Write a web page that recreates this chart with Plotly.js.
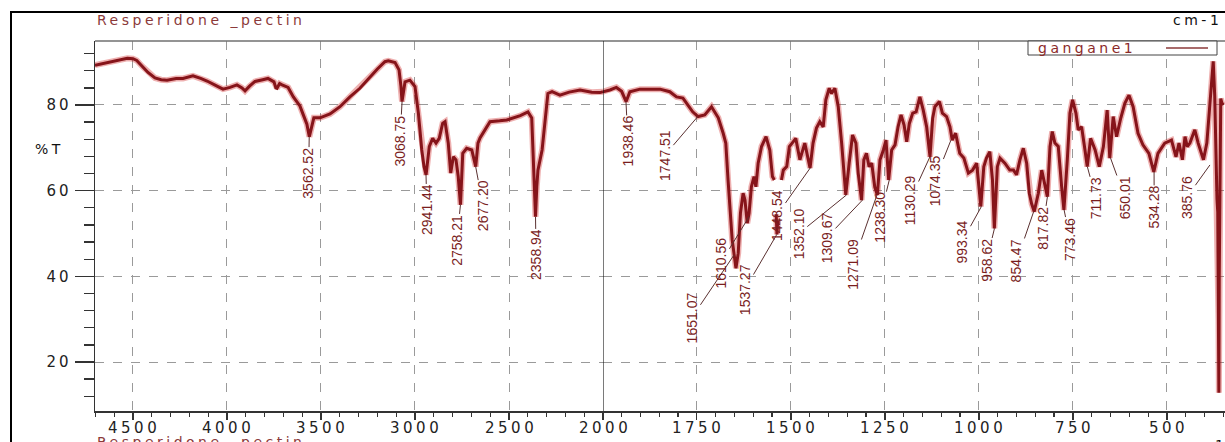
<!DOCTYPE html>
<html><head><meta charset="utf-8">
<script src="https://cdn.plot.ly/plotly-3.0.1.min.js"></script>
<style>
html,body{margin:0;padding:0;background:#fff;}
#chart{width:1225px;height:442px;}
.ytick text {letter-spacing:3px;}
.annotation-text[style*="DejaVu"] {letter-spacing:3.5px;}
</style></head><body><div id="chart"></div>
<script>
// ---------------- data ----------------
const sampleTitle = 'Resperidone _pectin';
const seriesName = 'gangane1';
const unitLabel = 'cm-1';
const yLabel = '%T';

const wavenumber = [
 4702,4640,4580,4530,4500,4480,4450,4420,4383,4350,4319,4270,4234,4181,4140,4106,4053,4021,3984,3947,
 3920,3904,3880,3851,3810,3782,3750,3740,3734,3720,3707,3675,3647,3612,3594,3575,3562,3550,3538,3505,
 3452,3399,3346,3293,3239,3200,3160,3142,3106,3085,3075,3069,3053,3027,3000,2982,2964,2952,2941,2924,
 2906,2888,2871,2853,2840,2823,2810,2796,2782,2770,2758,2746,2725,2698,2677,2665,2654,2601,2550,2512,
 2440,2399,2379,2368,2359,2352,2346,2324,2293,2271,2229,2180,2122,2060,2016,2000,
 1981,1964,1950,1938,1928,1901,1848,1822,1804,1787,1761,1747,1729,1711,1693,1680,1673,1667,1660,1656,
 1646,1640,1634,1627,1622,1616,1611,1605,1598,1593,1587,1578,1566,1556,1549,1544,1541,1539,1537,1535,
 1530,1525,1520,1511,1504,1494,1487,1476,1463,1449,1441,1432,1423,1414,1407,1398,1392,1383,1374,1365,
 1354,1345,1336,1327,1321,1312,1306,1299,1292,1285,1277,1270,1263,1254,1247,1240,1232,1223,1215,1207,
 1199,1192,1185,1176,1167,1157,1148,1139,1130,1123,1117,1105,1097,1086,1077,1071,1062,1051,1040,1028,
 1017,1006,995,987,980,971,964,959,951,944,931,918,908,900,891,882,873,866,860,853,
 842,833,825,818,811,805,798,789,780,774,765,758,751,742,736,727,718,712,703,691,
 680,669,659,652,643,634,623,612,601,590,577,564,548,535,524,506,488,476,468,459,
 452,446,439,426,417,403,394,387,380,377,373,370,367,365,363,362,361,359,357,354,350
];
const transmittance = [
 89.3,89.9,90.5,90.9,90.8,90.4,89.0,87.6,86.3,85.9,85.8,86.2,86.2,86.8,86.2,85.6,84.4,83.7,84.1,84.7,
 84.0,83.3,84.4,85.5,85.9,86.2,85.4,84.0,83.9,85.0,84.7,84.1,81.9,79.8,77.7,75.5,72.6,75.2,77.0,77.0,
 77.9,79.6,81.9,83.9,86.6,88.4,90.1,90.3,89.9,88.2,84.5,80.8,85.4,85.8,84.3,78.1,69.5,65.6,63.7,70.3,
 72.2,71.1,72.2,75.7,76.1,71.1,64.1,67.9,67.2,63.3,56.7,68.7,69.9,69.5,65.6,71.1,72.3,76.1,76.3,76.5,
 77.5,78.4,77.0,64.0,53.9,61.0,64.8,69.5,82.7,83.1,82.3,83.0,83.5,83.0,82.9,83.1,
 83.5,84.1,83.2,80.8,83.1,83.7,83.7,83.1,81.9,81.6,78.4,77.3,77.7,79.6,77.0,73.4,71.1,62.5,53.1,48.5,
 41.9,45.4,54.8,59.4,57.8,52.4,54.8,60.9,63.3,60.9,66.4,70.3,72.6,69.5,63.3,62.5,null,54.5,49.8,53.0,
 null,62.5,64.8,65.6,70.3,71.4,72.2,67.2,71.1,65.3,71.1,74.6,76.1,74.9,81.2,83.9,82.7,83.9,79.6,71.1,
 59.0,66.4,73.0,71.1,64.1,57.8,67.2,68.7,65.6,66.4,60.9,59.0,67.2,69.5,71.8,62.5,69.5,70.7,74.9,77.7,
 75.3,71.4,75.7,78.1,78.4,81.9,78.8,74.9,67.9,76.9,79.6,80.8,78.1,77.3,74.9,71.8,73.4,68.7,67.6,64.1,
 64.8,66.4,56.3,65.6,67.6,69.1,62.5,51.2,65.6,67.6,66.4,64.8,64.8,63.7,67.2,69.9,66.4,59.4,57.0,55.1,
 59.4,64.8,61.7,58.6,70.3,73.8,71.1,70.3,60.9,55.5,67.2,78.1,81.2,78.1,74.2,74.9,69.5,65.6,72.2,69.5,
 65.6,70.3,78.8,67.6,77.3,72.6,76.9,80.4,82.3,79.6,73.4,70.7,68.7,64.4,68.7,71.1,71.8,67.9,71.1,67.2,
 72.6,70.3,71.1,74.2,71.1,67.2,71.1,79.6,88.0,90.2,82.0,68.0,58.0,55.0,30.0,12.8,40.0,78.0,81.5,80.5,80.0
];

const peakLabels = ['3562.52','3068.75','2941.44','2758.21','2677.20','2358.94','1938.46','1747.51','1651.07','1610.56',
 '1537.27','1448.54','1352.10','1309.67','1271.09','1238.30','1130.29','1074.35','993.34','958.62',
 '854.47','817.82','773.46','711.73','650.01','534.28','385.76'];
const peakWavenumber = [3562.52,3068.75,2941.44,2758.21,2677.20,2358.94,1938.46,1747.51,1651.07,1610.56,
 1537.27,1448.54,1352.10,1309.67,1271.09,1238.30,1130.29,1074.35,993.34,958.62,
 854.47,817.82,773.46,711.73,650.01,534.28,385.76];
const peakTransmittance = [72.6,80.8,63.7,56.7,65.6,53.9,80.8,77.3,45.0,54.0,
 49.8,65.3,59.0,57.8,59.0,62.5,67.9,71.8,56.3,51.2,
 55.1,58.6,55.5,65.6,67.6,64.4,66.0];

const xTicksHigh = [4500,4000,3500,3000,2500,2000];
const xTicksLow = [1750,1500,1250,1000,750,500];
const yTicks = [20,40,60,80];

// ---------------- layout helpers (label placement, not data) ----------------
const labelPlacement = [[3566,64.1],[3080,71.7],[2936,55.5],[2777,48.5],[2638,56.4],[2356,45.0],
 [1933,71.5],[1835,68.3],[1763,30.4],[1686,43.2],[1622,37.0],[1537,54.3],[1479,50.0],[1404,49.1],
 [1335,42.9],[1263,53.7],[1183,57.8],[1117,62.4],[1045,48.1],[979,43.8],[899,43.7],[830,51.3],
 [758,48.7],[689,58.2],[612,58.4],[534,56.1],[447,58.5]];

const BREAK = 2000;
const hiX=[],hiY=[],loX=[],loY=[];
wavenumber.forEach((w,i)=>{
  if(w>=BREAK){hiX.push(w);hiY.push(transmittance[i]);}
  if(w<=BREAK){loX.push(w);loY.push(transmittance[i]);}
});
const haloStyle = {color:'rgba(205,30,30,0.35)', width:6};
const lineStyle = {color:'#86141a', width:3};
const mk = (x,y,xa,st)=>({x:x,y:y,xaxis:xa,yaxis:'y',type:'scatter',mode:'lines',name:seriesName,line:st,showlegend:false,connectgaps:false,hoverinfo:'skip'});
const traces = [mk(hiX,hiY,'x',haloStyle), mk(loX,loY,'x2',haloStyle), mk(hiX,hiY,'x',lineStyle), mk(loX,loY,'x2',lineStyle)];

const W=1225,H=442,ML=95,MR=0,MT=41,MB=31;
const PW=W-ML-MR, PH=H-MT-MB;
const px=(p)=>(p-ML)/PW, py=(p)=>(H-MB-p)/PH;
const split = 508/PW;

const tickFont = {family:'DejaVu Sans', size:15, color:'#222'};
const axisCommon = {showline:true, linecolor:'#333', linewidth:1.5, ticks:'outside', tickcolor:'#333', tickwidth:1.3,
  showgrid:true, gridcolor:'#9a9a9a', gridwidth:1, griddash:'dash', zeroline:false, tickfont:tickFont, fixedrange:true};

const hText = {family:'DejaVu Sans', size:14};
const hAnn = (x,y,ya,text,color)=>({xref:'paper',yref:'paper',x:px(x),y:py(y),xanchor:'left',yanchor:ya,align:'left',text:text,showarrow:false,font:Object.assign({color:color},hText)});
const annotations = [
  hAnn(95,20,'middle',sampleTitle,'#8b3a3a'),
  hAnn(95,432,'top',sampleTitle,'#8b3a3a'),
  hAnn(1171,20,'middle',unitLabel,'#111'),
  hAnn(1176,435,'top',unitLabel,'#111'),
  hAnn(33,149,'middle',yLabel,'#111'),
  hAnn(1036,48,'middle',seriesName,'#8b2a2a')
];
// x tick labels (drawn as annotations so they sit where the reference puts them)
[[xTicksHigh,'x'],[xTicksLow,'x2']].forEach(([vals,ref])=>{
  vals.forEach(v=>annotations.push({xref:ref,yref:'paper',x:v,y:py(428),xanchor:'center',yanchor:'middle',
    text:String(v),showarrow:false,font:tickFont,xshift:1.5}));
});
peakLabels.forEach((t,i)=>{
  const ref = peakWavenumber[i]>=BREAK ? 'x' : 'x2';
  annotations.push({x:peakWavenumber[i], y:peakTransmittance[i], xref:ref, yref:'y',
    ax:labelPlacement[i][0], ay:labelPlacement[i][1], axref:ref, ayref:'y',
    text:t, textangle:-90, showarrow:true, arrowhead:0, arrowwidth:1, arrowcolor:'#5a3030', standoff:0,
    font:{family:'Liberation Sans, Arial, sans-serif', size:14, color:'#7a1e1e'}, borderpad:0});
});

const shapes = [
  {type:'rect',xref:'paper',yref:'paper',x0:px(11),x1:1.06,y0:-0.3,y1:py(12),line:{color:'#000',width:2},fillcolor:'rgba(0,0,0,0)',layer:'above'},
  {type:'line',xref:'paper',yref:'paper',x0:0,x1:1.02,y0:1,y1:1,line:{color:'#707070',width:1.5}},
  {type:'line',xref:'x2',yref:'paper',x0:BREAK,x1:BREAK,y0:0,y1:1,line:{color:'#111',width:1.5},layer:'above'},
  {type:'rect',xref:'paper',yref:'paper',x0:px(1028),x1:px(1217),y0:py(55),y1:1,line:{color:'#444',width:1},fillcolor:'#fff',layer:'above'},
  {type:'line',xref:'paper',yref:'paper',x0:px(1166),x1:px(1208),y0:py(48),y1:py(48),line:{color:'#8b3a3a',width:1.5},layer:'above'}
];

const layout = {
  width:W, height:H, margin:{l:ML,r:MR,t:MT,b:MB,pad:0}, paper_bgcolor:'#fff', plot_bgcolor:'#fff', showlegend:false,
  xaxis: Object.assign({}, axisCommon, {domain:[0,split], range:[4702,2000], anchor:'y', tickmode:'array', tickvals:xTicksHigh, ticklen:7, showticklabels:false,
     minor:{tickmode:'linear',tick0:0,dtick:100,ticklen:4,tickcolor:'#333',tickwidth:1.3,ticks:'outside',showgrid:false}}),
  xaxis2: Object.assign({}, axisCommon, {domain:[split,1], range:[1999.5,345.7], anchor:'y', tickmode:'array', tickvals:xTicksLow, ticklen:7, showticklabels:false,
     minor:{tickmode:'linear',tick0:0,dtick:50,ticklen:4,tickcolor:'#333',tickwidth:1.3,ticks:'outside',showgrid:false}}),
  yaxis: Object.assign({}, axisCommon, {range:[8.56,94.94], anchor:'x', tickmode:'array', tickvals:yTicks, ticklen:19,
     minor:{tickmode:'linear',tick0:0,dtick:4,ticklen:10,tickcolor:'#333',tickwidth:1.3,ticks:'outside',showgrid:false}}),
  annotations: annotations, shapes: shapes
};

Plotly.newPlot('chart', traces, layout, {displayModeBar:false, staticPlot:true});
</script></body></html>
